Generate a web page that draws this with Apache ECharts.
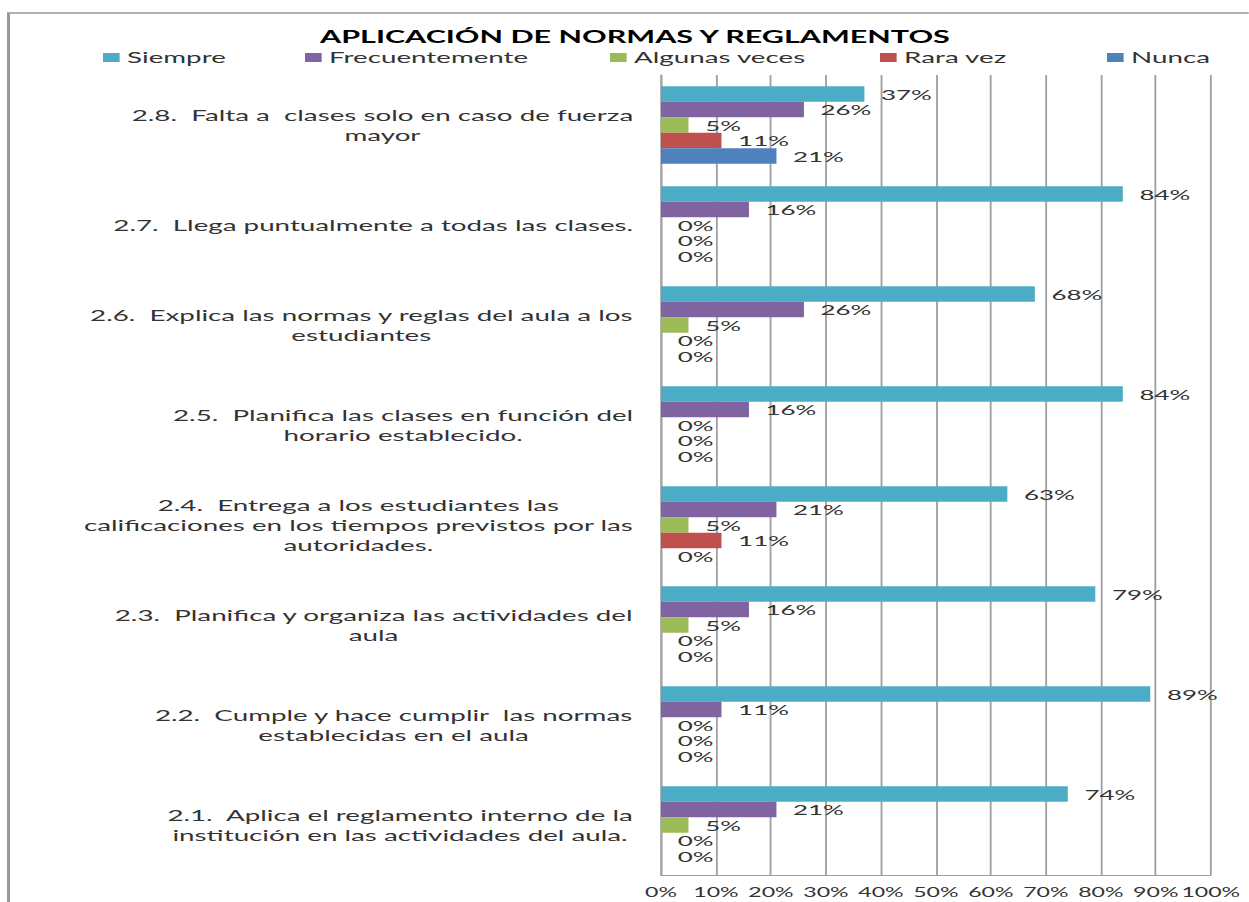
<!DOCTYPE html>
<html>
<head>
<meta charset="utf-8">
<script src="https://cdn.jsdelivr.net/npm/echarts@6/dist/echarts.min.js"></script>
<style>
    html, body { margin: 0; padding: 0; background: #fff; overflow: hidden; }
    #chart { height: 902px; transform-origin: 0 0; }
</style>
</head>
<body>
<div id="chart"></div>
<script>
// the original picture is a stretched export, so draw narrow and widen it
const STRETCH = 1.85
const W = 1249 / STRETCH

const categories = [
    '2.8.  Falta a  clases solo en caso de fuerza\nmayor',
    '2.7.  Llega puntualmente a todas las clases.',
    '2.6.  Explica las normas y reglas del aula a los\nestudiantes',
    '2.5.  Planifica las clases en función del\nhorario establecido.',
    '2.4.  Entrega a los estudiantes las\ncalificaciones en los tiempos previstos por las\nautoridades.',
    '2.3.  Planifica y organiza las actividades del\naula',
    '2.2.  Cumple y hace cumplir  las normas\nestablecidas en el aula',
    '2.1.  Aplica el reglamento interno de la\ninstitución en las actividades del aula.'
]
const siempre = [37, 84, 68, 84, 63, 79, 89, 74]
const frecuentemente = [26, 16, 26, 16, 21, 16, 11, 21]
const algunasVeces = [5, 0, 5, 0, 5, 5, 0, 5]
const raraVez = [11, 0, 0, 0, 11, 0, 0, 0]
const nunca = [21, 0, 0, 0, 0, 0, 0, 0]

const seriesNames = ['Siempre', 'Frecuentemente', 'Algunas veces', 'Rara vez', 'Nunca']
const seriesData = [siempre, frecuentemente, algunasVeces, raraVez, nunca]
const colors = ['#4BACC6', '#8064A2', '#9BBB59', '#C0504D', '#4F81BD']
const legendLeft = [103, 305, 610, 880, 1107]

const el = document.getElementById('chart')
el.style.width = W + 'px'
el.style.transform = 'scaleX(' + STRETCH + ')'

const chart = echarts.init(el, null, { renderer: 'svg' })

const font = 'Lato'
const textColor = '#333'

chart.setOption({
    animation: false,
    color: colors,
    title: {
        text: 'APLICACIÓN DE NORMAS Y REGLAMENTOS',
        left: 320 / STRETCH,
        top: 28,
        padding: 0,
        textStyle: { fontFamily: font, fontSize: 16.5, fontWeight: 'bold', color: '#000' }
    },
    legend: seriesNames.map((name, i) => ({
        data: [name],
        left: legendLeft[i] / STRETCH,
        top: 50,
        padding: 0,
        icon: 'rect',
        itemWidth: 9,
        itemHeight: 9,
        itemGap: 0,
        selectedMode: false,
        textStyle: { fontFamily: font, fontSize: 15, color: textColor, padding: [0, 0, 0, -1] }
    })),
    graphic: [{
        type: 'rect',
        silent: true,
        shape: { x: 8.5 / STRETCH, y: 13, width: 2000, height: 2000 },
        style: { fill: 'none', stroke: '#999', lineWidth: 1.6 }
    }],
    grid: {
        left: 661 / STRETCH,
        right: W - 1211 / STRETCH,
        top: 75,
        bottom: 27,
        containLabel: false,
        outerBoundsMode: 'none'
    },
    xAxis: {
        type: 'value',
        min: 0,
        max: 100,
        interval: 10,
        axisLine: { show: true, lineStyle: { color: '#a0a0a0', width: 1 } },
        axisTick: { show: false },
        splitLine: { show: true, lineStyle: { color: '#a0a0a0', width: 1 } },
        axisLabel: {
            formatter: '{value}%',
            margin: 11,
            showMinLabel: true,
            showMaxLabel: true,
            fontFamily: font,
            fontSize: 12.5,
            lineHeight: 13,
            color: textColor
        }
    },
    yAxis: {
        type: 'category',
        inverse: true,
        data: categories,
        axisLine: { show: true, lineStyle: { color: '#a0a0a0', width: 1 } },
        axisTick: { show: false },
        splitLine: { show: false },
        axisLabel: {
            margin: 15,
            align: 'right',
            fontFamily: font,
            fontSize: 15,
            lineHeight: 20,
            color: textColor,
            formatter: function (val) {
                return val.split('\n').map(line => '{c|' + line + '}').join('\n')
            },
            rich: {
                c: { align: 'center', fontFamily: font, fontSize: 15, lineHeight: 20, color: textColor }
            }
        }
    },
    series: seriesNames.map((name, i) => ({
        name: name,
        type: 'bar',
        data: seriesData[i],
        barWidth: 15.5,
        barGap: '0%',
        itemStyle: { color: colors[i] },
        label: {
            show: true,
            position: 'right',
            distance: 9,
            formatter: '{c}%',
            fontFamily: font,
            fontSize: 14,
            color: textColor
        }
    }))
})
</script>
</body>
</html>
